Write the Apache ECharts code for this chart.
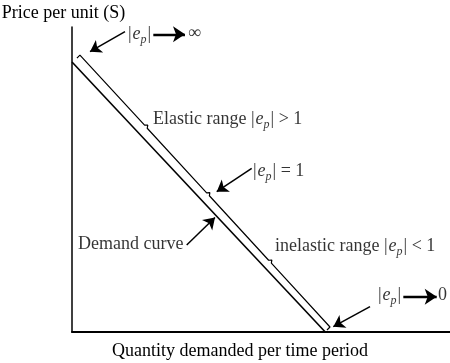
<!DOCTYPE html>
<html><head><meta charset="utf-8">
<script src="https://cdn.jsdelivr.net/npm/echarts@6/dist/echarts.min.js"></script>
<style>html,body{margin:0;padding:0;background:#fff}#c{width:450px;height:363px}</style>
</head><body><div id="c"></div>
<script>
// Axis titles
const xTitle = 'Quantity demanded per time period';
const yTitle = 'Price per unit (S)';
// Linear demand curve (quantity, price)
const demandCurve = [[0, 88.5], [67, 0]];
// Bracket drawn alongside the curve (with small notches marking ranges)
const rangeBracket = [[1.3,89.8],[2.1,90.8],[19.2,67.8],[20.05,67.84],[19.9,66.8],
  [35.62,45.63],[36.47,45.7],[36.34,44.67],[52.02,23.53],[52.87,23.6],[52.74,22.57],
  [68.25,1.64],[67.46,0.66]];
// Pointer arrows (tail -> head)
const pointerArrows = [
  [[14.02, 98.46], [4.76, 91.9]],
  [[47.54, 53.67], [38.28, 46.0]],
  [[30.34, 28.52], [37.83, 37.54]],
  [[78.84, 8.30], [69.13, 1.74]]
];
// Limit arrows inside the labels
const limitArrows = [
  [[21.51, 97.6], [29.89, 97.6]],
  [[87.65, 11.57], [96.48, 11.57]]
];
const EP = '{v||}{e|e}{p|p}{v||}';
// Annotation texts and anchor points
const notePoints = [[14.81, 97.5],[30.69, 98.0],[21.43, 69.87],[47.88, 52.56],[1.59, 28.89],[53.7, 28.2],[80.95, 11.9],[96.83, 11.9]];
const noteTexts = [EP, '\u221E', 'Elastic range ' + EP + ' > 1', EP + ' = 1', 'Demand curve', 'inelastic range ' + EP + ' < 1', EP, '0'];

const FONT = 'Liberation Serif';
const chart = echarts.init(document.getElementById('c'), null, {renderer: 'canvas'});
chart.setOption({
  animation: false,
  backgroundColor: '#fff',
  grid: {left: 72, right: 0, top: 27, bottom: 31, outerBoundsMode: 'none'},
  xAxis: {
    type: 'value', min: 0, max: 100,
    name: xTitle, nameLocation: 'middle', nameGap: 19,
    nameTextStyle: {fontFamily: FONT, fontSize: 18, color: '#000', align: 'center', verticalAlign: 'middle', padding: [0, 42, 0, 0]},
    axisLine: {lineStyle: {color: '#000', width: 2}},
    axisTick: {show: false}, axisLabel: {show: false}, splitLine: {show: false}
  },
  yAxis: {
    type: 'value', min: 0, max: 100,
    name: yTitle, nameLocation: 'end', nameGap: 14,
    nameTextStyle: {fontFamily: FONT, fontSize: 18, color: '#000', align: 'center', verticalAlign: 'middle', padding: [0, 17, 0, 0]},
    axisLine: {show: true, lineStyle: {color: '#000', width: 1.5}},
    axisTick: {show: false}, axisLabel: {show: false}, splitLine: {show: false}
  },
  series: [
    {type: 'line', data: demandCurve, showSymbol: false, silent: true,
     lineStyle: {color: '#000', width: 1.6}},
    {type: 'line', data: rangeBracket, showSymbol: false, silent: true,
     lineStyle: {color: '#000', width: 1.2}},
    {type: 'lines', coordinateSystem: 'cartesian2d', silent: true,
     data: pointerArrows.map(c => ({coords: c})),
     symbol: ['none', 'arrow'], symbolSize: 11,
     lineStyle: {color: '#000', width: 1.5, opacity: 1}},
    {type: 'lines', coordinateSystem: 'cartesian2d', silent: true,
     data: limitArrows.map(c => ({coords: c})),
     symbol: ['none', 'arrow'], symbolSize: 12,
     lineStyle: {color: '#000', width: 2.4, opacity: 1}},
    {type: 'scatter', symbolSize: 0, silent: true,
     data: notePoints.map((p, i) => ({value: p, label: {formatter: () => noteTexts[i]}})),
     label: {
       show: true, position: 'right', distance: 0,
       fontFamily: FONT, fontSize: 18, color: '#000',
       rich: {
         v: {fontFamily: FONT, fontSize: 18, color: '#000'},
         e: {fontFamily: FONT, fontSize: 18, fontStyle: 'italic', color: '#000', padding: [0, 0, 0, 1]},
         p: {fontFamily: FONT, fontSize: 12, fontStyle: 'italic', color: '#000', padding: [11, 1, 0, 0]}
       }
     }}
  ]
});
</script></body></html>
